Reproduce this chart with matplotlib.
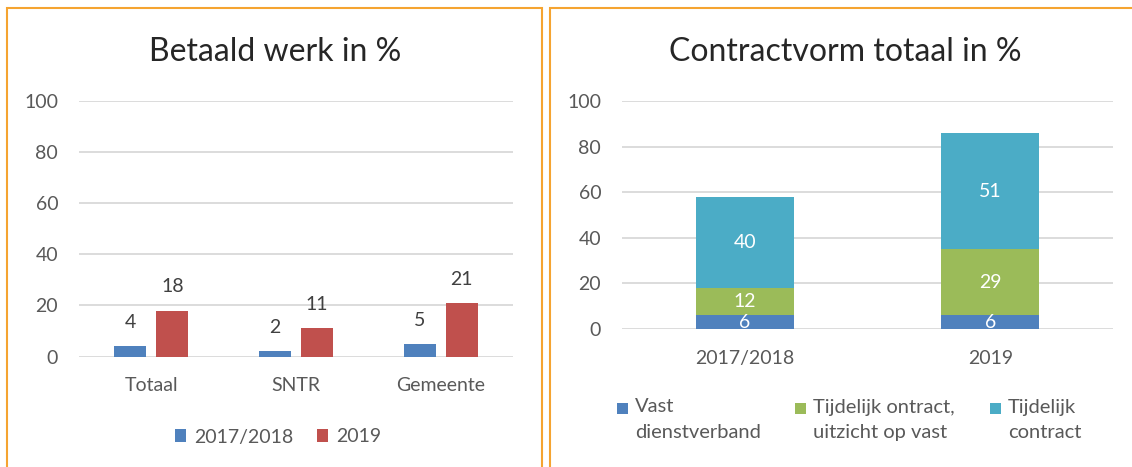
import matplotlib.pyplot as plt
from matplotlib.patches import Rectangle

plt.rcParams['font.family'] = ['Lato', 'DejaVu Sans']

# Betaald werk in %
groepen = ["Totaal", "SNTR", "Gemeente"]
jaren = ["2017/2018", "2019"]
werk_2017 = [4, 2, 5]
werk_2019 = [18, 11, 21]

# Contractvorm totaal in %
periodes = ["2017/2018", "2019"]
contract_labels = ["Vast\ndienstverband", "Tijdelijk ontract,\nuitzicht op vast", "Tijdelijk\ncontract"]
vast = [6, 6]
tijdelijk_vast = [12, 29]
tijdelijk = [40, 51]

blauw, rood, groen, cyaan = "#4F81BD", "#C0504D", "#9BBB59", "#4BACC6"
grijs = "#595959"
rand = "#F5A431"

W, H = 1132, 467
fig = plt.figure(figsize=(W / 100, H / 100), dpi=100)

# oranje kaders rond de twee grafieken
fig.add_artist(Rectangle((7 / W, -0.1), (542 - 7) / W, (H - 8) / H + 0.1,
                         transform=fig.transFigure, fill=False, edgecolor=rand, lw=1.5))
fig.add_artist(Rectangle((550 / W, -0.1), 0.6, (H - 8) / H + 0.1,
                         transform=fig.transFigure, fill=False, edgecolor=rand, lw=1.5))


def opmaak(ax):
    ax.set_ylim(0, 100)
    ax.set_yticks(range(0, 101, 20))
    ax.grid(axis="y", color="#D9D9D9", lw=1.3)
    ax.set_axisbelow(True)
    for s in ax.spines.values():
        s.set_visible(False)
    ax.tick_params(length=0, labelsize=14, labelcolor=grijs)
    ax.tick_params(axis="y", pad=15)
    ax.tick_params(axis="x", pad=15)


# links
ax1 = fig.add_axes([79 / W, (H - 356.5) / H, 434 / W, (356.5 - 101) / H])
x = list(range(len(groepen)))
b1 = ax1.bar([i - 0.145 for i in x], werk_2017, width=0.22, color=blauw, label=jaren[0])
b2 = ax1.bar([i + 0.145 for i in x], werk_2019, width=0.22, color=rood, label=jaren[1])
for bars in (b1, b2):
    for r in bars:
        ax1.annotate(str(int(r.get_height())), (r.get_x() + r.get_width() / 2, r.get_height()),
                     xytext=(0, 17), textcoords="offset points", ha="center", va="center",
                     fontsize=14, color="#404040")
ax1.set_xticks(x, groepen)
ax1.set_xlim(-0.5, 2.5)
opmaak(ax1)
fig.text(275 / W, 1 - 52 / H, "Betaald werk in %", ha="center", va="center", fontsize=23, color="#262626")
ax1.legend(loc="center", bbox_to_anchor=(278 / W, 1 - 437 / H), bbox_transform=fig.transFigure,
           ncol=2, frameon=False, fontsize=14, labelcolor=grijs, handlelength=0.6, handleheight=0.6,
           handletextpad=0.4, columnspacing=1.2)

# rechts
ax2 = fig.add_axes([622 / W, (H - 329) / H, 491 / W, (329 - 101) / H])
xp = list(range(len(periodes)))
onder = [0, 0]
kleuren = [blauw, groen, cyaan]
for waarden, kleur, lab in zip([vast, tijdelijk_vast, tijdelijk], kleuren, contract_labels):
    bars = ax2.bar(xp, waarden, width=0.4, bottom=onder, color=kleur, label=lab)
    ax2.bar_label(bars, label_type="center", color="white", fontsize=14)
    onder = [a + b for a, b in zip(onder, waarden)]
ax2.set_xticks(xp, periodes)
ax2.set_xlim(-0.5, 1.5)
opmaak(ax2)
fig.text(845 / W, 1 - 52 / H, "Contractvorm totaal in %", ha="center", va="center", fontsize=23, color="#262626")

# legenda met blokje naast de eerste regel
leg_x = [617, 795, 990]
for lx, kleur, lab in zip(leg_x, kleuren, contract_labels):
    fig.add_artist(Rectangle((lx / W, 1 - 414 / H), 11 / W, 11 / H, transform=fig.transFigure,
                             color=kleur, lw=0))
    fig.text((lx + 18) / W, 1 - 398.5 / H, lab, ha="left", va="top", fontsize=14.5,
             color=grijs, linespacing=1.6)

fig.savefig("out.png", dpi=100)
